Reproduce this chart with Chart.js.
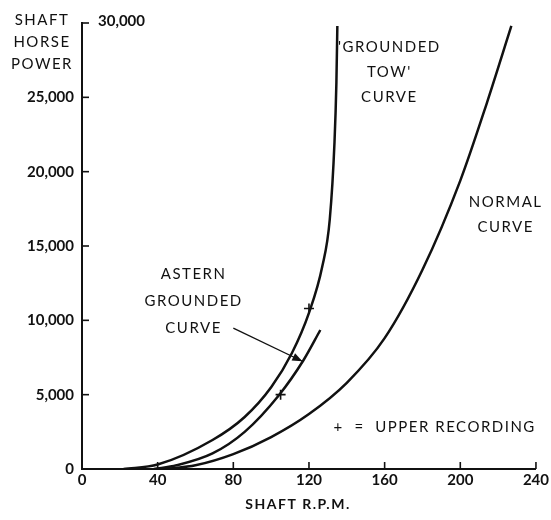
<!DOCTYPE html>
<html>
<head>
<meta charset="utf-8">
<script src="https://cdn.jsdelivr.net/npm/chart.js@4.4.0/dist/chart.umd.min.js"></script>
<style>
  html, body { margin: 0; padding: 0; background: #fff; }
</style>
</head>
<body>
<canvas id="chart" width="551" height="520"></canvas>
<script>
// tick values
const xTicks = [0, 40, 80, 120, 160, 200, 240];
const yTicks = [0, 5000, 10000, 15000, 20000, 25000, 30000];

// 'grounded tow' curve
const towRpm = [22, 40, 69, 86, 100, 111, 120, 127, 131, 133.5, 134.5, 135];
const towShp = [0, 300, 1950, 3500, 5500, 7800, 10500, 13600, 16800, 22000, 26000, 29800];

// astern grounded curve
const asternRpm = [38, 50, 69, 86, 104, 117, 126];
const asternShp = [0, 250, 1050, 2500, 4950, 7300, 9350];

// normal curve
const normalRpm = [44, 60, 80, 100, 120, 140, 160, 180, 200, 214, 227];
const normalShp = [0, 250, 1000, 2150, 3700, 5800, 8800, 13400, 19400, 24600, 29800];

// upper recordings (+)
const upperRpm = [105, 120];
const upperShp = [5000, 10800];

const ink = '#111';
const font = 'Lato, "Open Sans", sans-serif';

const toPoints = (xs, ys) => xs.map((x, i) => ({ x: x, y: ys[i] }));

const curve = (data) => ({
  data: data,
  showLine: true,
  borderColor: ink,
  borderWidth: 2.5,
  pointRadius: 0,
  cubicInterpolationMode: 'monotone',
  fill: false
});

const notes = {
  id: 'notes',
  afterDraw(chart) {
    const ctx = chart.ctx;
    const xs = chart.scales.x;
    const ys = chart.scales.y;
    const area = chart.chartArea;
    const px = v => xs.getPixelForValue(v);
    const py = v => ys.getPixelForValue(v);

    ctx.save();
    ctx.strokeStyle = ink;
    ctx.fillStyle = ink;

    // inside tick marks
    ctx.lineWidth = 1.6;
    xTicks.slice(1).forEach(t => {
      ctx.beginPath();
      ctx.moveTo(px(t), area.bottom);
      ctx.lineTo(px(t), area.bottom - 7);
      ctx.stroke();
    });
    yTicks.slice(1).forEach(t => {
      ctx.beginPath();
      ctx.moveTo(area.left, py(t));
      ctx.lineTo(area.left + 7, py(t));
      ctx.stroke();
    });

    // top y label sits right of the axis
    ctx.font = 'bold 15px ' + font;
    ctx.textBaseline = 'middle';
    ctx.textAlign = 'left';
    ctx.fillText('30,000', area.left + 16, py(30000) - 2);

    // axis titles
    ctx.font = '15px ' + font;
    ctx.letterSpacing = '1.5px';
    ctx.textAlign = 'center';
    ['SHAFT', 'HORSE', 'POWER'].forEach((s, i) => ctx.fillText(s, 42, 20 + i * 22));
    ctx.font = 'bold 14px ' + font;
    ctx.fillText('SHAFT R.P.M.', 298, 504);

    ctx.font = '15px ' + font;
    const block = (lines, rpm, shp, gap) => {
      lines.forEach((s, i) => ctx.fillText(s, px(rpm), py(shp) + i * gap));
    };
    block(["'GROUNDED", "TOW'", 'CURVE'], 162.5, 28400, 25);
    block(['NORMAL', 'CURVE'], 224, 17950, 25);
    block(['ASTERN', 'GROUNDED', 'CURVE'], 59, 13100, 27);

    ctx.textAlign = 'left';
    ctx.fillText('+  =  UPPER RECORDING', px(133), py(2800));

    // arrow to astern curve
    const x0 = px(80), y0 = py(9480);
    const x1 = px(116.5), y1 = py(7250);
    ctx.lineWidth = 1.3;
    ctx.beginPath();
    ctx.moveTo(x0, y0);
    ctx.lineTo(x1, y1);
    ctx.stroke();
    const a = Math.atan2(y1 - y0, x1 - x0);
    ctx.beginPath();
    ctx.moveTo(x1, y1);
    ctx.lineTo(x1 - 10 * Math.cos(a) + 4 * Math.sin(a), y1 - 10 * Math.sin(a) - 4 * Math.cos(a));
    ctx.lineTo(x1 - 10 * Math.cos(a) - 4 * Math.sin(a), y1 - 10 * Math.sin(a) + 4 * Math.cos(a));
    ctx.closePath();
    ctx.fill();

    ctx.restore();
  }
};

new Chart(document.getElementById('chart'), {
  type: 'scatter',
  data: {
    datasets: [
      curve(toPoints(towRpm, towShp)),
      curve(toPoints(asternRpm, asternShp)),
      curve(toPoints(normalRpm, normalShp)),
      {
        data: toPoints(upperRpm, upperShp),
        pointStyle: 'cross',
        pointRadius: 5,
        borderColor: ink,
        borderWidth: 1.6,
        showLine: false
      }
    ]
  },
  options: {
    responsive: false,
    animation: false,
    events: [],
    layout: { padding: { top: 23, right: 12, left: 0, bottom: 0 } },
    plugins: {
      legend: { display: false },
      tooltip: { enabled: false }
    },
    scales: {
      x: {
        type: 'linear',
        min: 0,
        max: 240,
        afterBuildTicks: s => { s.ticks = xTicks.map(v => ({ value: v })); },
        afterFit: s => { s.height = 51; },
        grid: { display: false, drawTicks: false },
        border: { color: ink, width: 2 },
        ticks: {
          color: ink,
          padding: 2,
          font: { family: font, size: 15, weight: 'bold' }
        }
      },
      y: {
        min: 0,
        max: 30000,
        afterBuildTicks: s => { s.ticks = yTicks.map(v => ({ value: v })); },
        afterFit: s => { s.width = 82; },
        grid: { display: false, drawTicks: false },
        border: { color: ink, width: 2 },
        ticks: {
          color: ink,
          padding: 8,
          font: { family: font, size: 15, weight: 'bold' },
          callback: v => v === 30000 ? '' : v.toLocaleString('en-US')
        }
      }
    }
  },
  plugins: [notes]
});
</script>
</body>
</html>
